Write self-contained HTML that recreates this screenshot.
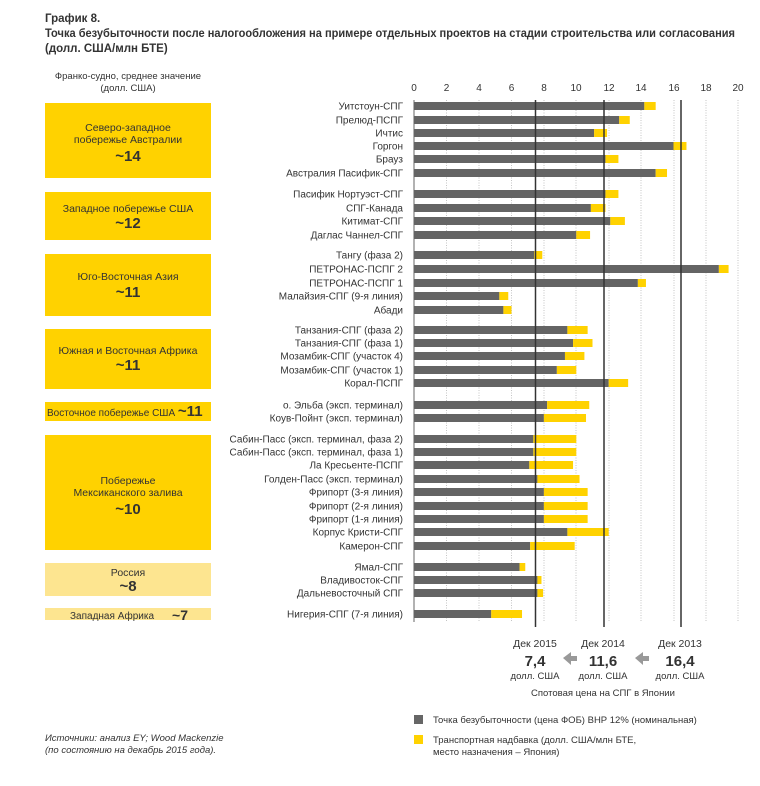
<!DOCTYPE html>
<html><head><meta charset="utf-8"><style>
body{margin:0;background:#fff;}
svg text{font-family:"Liberation Sans","DejaVu Sans",sans-serif;fill:#333;}
</style></head><body>
<svg width="760" height="781" xmlns="http://www.w3.org/2000/svg">
<text x="45" y="22" font-size="11.5" font-weight="bold" fill="#333">График 8.</text>
<text x="45" y="37" font-size="11.5" font-weight="bold" textLength="690" lengthAdjust="spacingAndGlyphs">Точка безубыточности после налогообложения на примере отдельных проектов на стадии строительства или согласования</text>
<text x="45" y="52" font-size="11.5" font-weight="bold">(долл. США/млн БТЕ)</text>
<text x="128" y="79" font-size="9.5" text-anchor="middle">Франко-судно, среднее значение</text>
<text x="128" y="91" font-size="9.5" text-anchor="middle">(долл. США)</text>
<g fill="#ffd200">
<rect x="45" y="103" width="166" height="75"/>
<rect x="45" y="192" width="166" height="48"/>
<rect x="45" y="254" width="166" height="62"/>
<rect x="45" y="329" width="166" height="60"/>
<rect x="45" y="402" width="166" height="19"/>
<rect x="45" y="435" width="166" height="115"/>
</g>
<g fill="#fde590">
<rect x="45" y="563" width="166" height="33"/>
<rect x="45" y="608" width="166" height="12"/>
</g>
<g font-size="10.5" text-anchor="middle">
<text x="128" y="131">Северо-западное</text>
<text x="128" y="143">побережье Австралии</text>
<text x="128" y="161" font-size="15" font-weight="bold">~14</text>
<text x="128" y="212">Западное побережье США</text>
<text x="128" y="228" font-size="15" font-weight="bold">~12</text>
<text x="128" y="280">Юго-Восточная Азия</text>
<text x="128" y="297" font-size="15" font-weight="bold">~11</text>
<text x="128" y="354">Южная и Восточная Африка</text>
<text x="128" y="370" font-size="15" font-weight="bold">~11</text>
<text x="47" y="416" text-anchor="start" font-size="10">Восточное побережье США <tspan font-size="15" font-weight="bold">~11</tspan></text>
<text x="128" y="484">Побережье</text>
<text x="128" y="496">Мексиканского залива</text>
<text x="128" y="514" font-size="15" font-weight="bold">~10</text>
<text x="128" y="576">Россия</text>
<text x="128" y="591" font-size="15" font-weight="bold">~8</text>
<text x="70" y="619" text-anchor="start" font-size="10">Западная Африка</text>
<text x="180" y="620" font-size="14" font-weight="bold">~7</text>
</g>
<g font-size="10" text-anchor="middle">
<text x="414" y="91">0</text><text x="446.5" y="91">2</text><text x="479" y="91">4</text><text x="511.5" y="91">6</text><text x="544" y="91">8</text><text x="576" y="91">10</text><text x="609" y="91">12</text><text x="641" y="91">14</text><text x="674" y="91">16</text><text x="706" y="91">18</text><text x="738" y="91">20</text>
</g>
<g stroke="#c4c4c4" stroke-dasharray="1,1.5" stroke-width="1">
<line x1="446.5" y1="100" x2="446.5" y2="622"/><line x1="479" y1="100" x2="479" y2="622"/><line x1="511.5" y1="100" x2="511.5" y2="622"/><line x1="544" y1="100" x2="544" y2="622"/><line x1="576" y1="100" x2="576" y2="622"/><line x1="609" y1="100" x2="609" y2="622"/><line x1="641" y1="100" x2="641" y2="622"/><line x1="674" y1="100" x2="674" y2="622"/><line x1="706" y1="100" x2="706" y2="622"/><line x1="738" y1="100" x2="738" y2="622"/>
</g>
<line x1="414" y1="100" x2="414" y2="622" stroke="#666" stroke-width="1"/>
<g id="bars"></g>
<line x1="535.5" y1="100" x2="535.5" y2="627" stroke="#333" stroke-width="1.5"/>
<line x1="604" y1="100" x2="604" y2="627" stroke="#333" stroke-width="1.5"/>
<line x1="681" y1="100" x2="681" y2="627" stroke="#333" stroke-width="1.5"/>
<g font-size="10.5" text-anchor="middle">
<text x="535" y="647">Дек 2015</text>
<text x="603" y="647">Дек 2014</text>
<text x="680" y="647">Дек 2013</text>
<text x="535" y="666" font-size="15" font-weight="bold">7,4</text>
<text x="603" y="666" font-size="15" font-weight="bold">11,6</text>
<text x="680" y="666" font-size="15" font-weight="bold">16,4</text>
<text x="535" y="679" font-size="9.5">долл. США</text>
<text x="603" y="679" font-size="9.5">долл. США</text>
<text x="680" y="679" font-size="9.5">долл. США</text>
<text x="603" y="696" font-size="9.5">Спотовая цена на СПГ в Японии</text>
</g>
<polygon points="563,658 571,652 571,656 577,656 577,661 571,661 571,665" fill="#999"/>
<polygon points="635,658 643,652 643,656 649,656 649,661 643,661 643,665" fill="#999"/>
<rect x="414" y="715" width="9" height="9" fill="#666"/>
<rect x="414" y="735" width="9" height="9" fill="#ffd200"/>
<g font-size="9.5">
<text x="433" y="723">Точка безубыточности (цена ФОБ) ВНР 12% (номинальная)</text>
<text x="433" y="743">Транспортная надбавка (долл. США/млн БТЕ,</text>
<text x="433" y="755">место назначения – Япония)</text>
<text x="45" y="741" font-style="italic">Источники: анализ EY; Wood Mackenzie</text>
<text x="45" y="753" font-style="italic">(по состоянию на декабрь 2015 года).</text>
</g>
<g font-size="10" text-anchor="end" id="labels"></g>
</svg>
<script>
var d=[["Уитстоун-СПГ",106,14.2,14.9],["Прелюд-ПСПГ",120,12.65,13.3],["Ичтис",133,11.1,11.9],["Горгон",146,16.0,16.8],["Брауз",159,11.8,12.6],["Австралия Пасифик-СПГ",173,14.9,15.6],
["Пасифик Нортуэст-СПГ",194,11.8,12.6],["СПГ-Канада",208,10.9,11.8],["Китимат-СПГ",221,12.1,13.0],["Даглас Чаннел-СПГ",235,10.0,10.85],
["Тангу (фаза 2)",255,7.4,7.9],["ПЕТРОНАС-ПСПГ 2",269,18.8,19.4],["ПЕТРОНАС-ПСПГ 1",283,13.8,14.3],["Малайзия-СПГ (9-я линия)",296,5.25,5.8],["Абади",310,5.5,6.0],
["Танзания-СПГ (фаза 2)",330,9.45,10.7],["Танзания-СПГ (фаза 1)",343,9.8,11.0],["Мозамбик-СПГ (участок 4)",356,9.3,10.5],["Мозамбик-СПГ (участок 1)",370,8.8,10.0],["Корал-ПСПГ",383,12.0,13.2],
["о. Эльба (эксп. терминал)",405,8.2,10.8],["Коув-Пойнт (эксп. терминал)",418,8.0,10.6],
["Сабин-Пасс (эксп. терминал, фаза 2)",439,7.35,10.0],["Сабин-Пасс (эксп. терминал, фаза 1)",452,7.35,10.0],["Ла Кресьенте-ПСПГ",465,7.1,9.8],["Голден-Пасс (эксп. терминал)",479,7.6,10.2],["Фрипорт (3-я линия)",492,8.0,10.7],["Фрипорт (2-я линия)",506,8.0,10.7],["Фрипорт (1-я линия)",519,8.0,10.7],["Корпус Кристи-СПГ",532,9.45,12.0],["Камерон-СПГ",546,7.15,9.9],
["Ямал-СПГ",567,6.5,6.85],["Владивосток-СПГ",580,7.6,7.85],["Дальневосточный СПГ",593,7.6,7.95],["Нигерия-СПГ (7-я линия)",614,4.75,6.65]];
var ns="http://www.w3.org/2000/svg",b=document.getElementById("bars"),l=document.getElementById("labels");
function X(v){return 414.3+v*16.2;}
d.forEach(function(r){
 var g=document.createElementNS(ns,"rect");g.setAttribute("x",414.3);g.setAttribute("y",r[1]-4);g.setAttribute("width",X(r[2])-414.3);g.setAttribute("height",8);g.setAttribute("fill","#646464");b.appendChild(g);
 var y=document.createElementNS(ns,"rect");y.setAttribute("x",X(r[2]));y.setAttribute("y",r[1]-4);y.setAttribute("width",X(r[3])-X(r[2]));y.setAttribute("height",8);y.setAttribute("fill","#ffd200");b.appendChild(y);
 var t=document.createElementNS(ns,"text");t.setAttribute("x",403);t.setAttribute("y",r[1]+3.5);t.textContent=r[0];l.appendChild(t);
});
</script>
</body></html>
